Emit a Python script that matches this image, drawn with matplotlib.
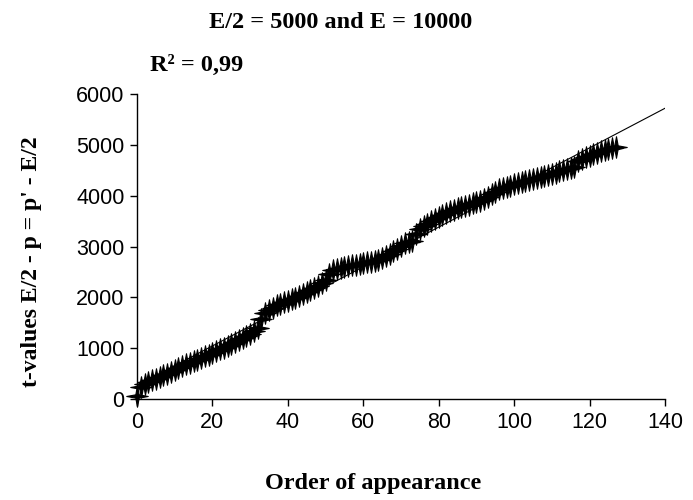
import numpy as np
import matplotlib
matplotlib.use("Agg")
import matplotlib.pyplot as plt
from matplotlib.path import Path

order = list(range(128))
t_values = [
    60, 230, 290, 330, 370, 400, 440, 470, 500, 540,
    570, 610, 640, 680, 710, 740, 770, 800, 840, 870,
    910, 940, 980, 1010, 1050, 1080, 1120, 1160, 1200, 1240,
    1280, 1330, 1400, 1580, 1700, 1760, 1800, 1840, 1870, 1900,
    1930, 1960, 1990, 2020, 2060, 2100, 2140, 2180, 2230, 2280,
    2340, 2450, 2530, 2560, 2580, 2600, 2610, 2630, 2640, 2660,
    2670, 2690, 2700, 2720, 2740, 2770, 2810, 2860, 2910, 2960,
    3010, 3060, 3090, 3110, 3250, 3340, 3400, 3450, 3500, 3540,
    3580, 3620, 3660, 3690, 3720, 3750, 3770, 3800, 3820, 3850,
    3870, 3900, 3930, 3980, 4030, 4080, 4130, 4160, 4180, 4200,
    4220, 4240, 4260, 4280, 4300, 4320, 4340, 4360, 4380, 4400,
    4420, 4450, 4480, 4500, 4520, 4540, 4560, 4680, 4720, 4760,
    4790, 4820, 4840, 4870, 4890, 4910, 4930, 4950,
]
x_ticks = [0, 20, 40, 60, 80, 100, 120, 140]
y_ticks = [0, 1000, 2000, 3000, 4000, 5000, 6000]

title = "E/2 = 5000 and E = 10000"
r2_text = "R² = 0,99"
xlabel = "Order of appearance"
ylabel = "t-values E/2 - p = p' - E/2"

# 4-point star marker
ang = np.deg2rad(np.arange(0, 360, 45) + 90)
rad = np.array([1, 0.22] * 4)
verts = np.column_stack([rad * np.cos(ang), rad * np.sin(ang)])
verts = np.vstack([verts, verts[:1]])
star = Path(verts, closed=True)

fig = plt.figure(figsize=(6.93, 5.0), dpi=100)
ax = fig.add_axes([137 / 693, 1 - 399 / 500, (665 - 137) / 693, (399 - 94) / 500])

x = np.array(order, dtype=float)
y = np.array(t_values, dtype=float)
ax.plot(x, y, linestyle="none", marker=star, markersize=15.5,
        color="black", markeredgewidth=0.8, clip_on=False, zorder=3)

coef = np.polyfit(x, y, 1)
xl = np.array([0, 140])
ax.plot(xl, np.polyval(coef, xl), color="black", lw=0.8, zorder=2)

ax.set_xlim(0, 140)
ax.set_ylim(0, 6000)
ax.set_xticks(x_ticks)
ax.set_yticks(y_ticks)
ax.tick_params(direction="out", length=5, width=1, labelsize=15.5, pad=4)
for lab in ax.get_xticklabels() + ax.get_yticklabels():
    lab.set_fontfamily("Liberation Sans")
for s in ["top", "right"]:
    ax.spines[s].set_visible(False)
for s in ["left", "bottom"]:
    ax.spines[s].set_linewidth(1)

serif = dict(family="Liberation Serif", weight="bold")
fig.text(341 / 693, 1 - 22 / 500, title, ha="center", va="center", fontsize=17.5, **serif)
fig.text(150 / 693, 1 - 65 / 500, r2_text, ha="left", va="center", fontsize=17.5, **serif)
fig.text(373 / 693, 1 - 483 / 500, xlabel, ha="center", va="center", fontsize=17.5, **serif)
fig.text(32 / 693, 1 - 262 / 500, ylabel, ha="center", va="center", rotation=90, fontsize=17, **serif)

fig.savefig("out.png", dpi=100, facecolor="white")
